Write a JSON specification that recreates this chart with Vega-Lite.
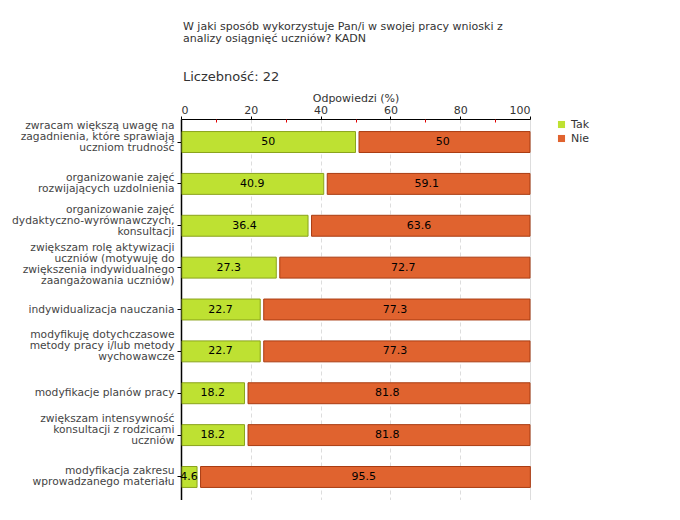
{
  "$schema": "https://vega.github.io/schema/vega-lite/v6.json",
  "autosize": "none",
  "width": 349,
  "height": 381,
  "padding": {"left": 181, "top": 119, "right": 150, "bottom": 0},
  "background": "white",
  "title": {
    "text": ["W jaki sposób wykorzystuje Pan/i w swojej pracy wnioski z", "analizy osiągnięć uczniów? KADN"],
    "subtitle": "Liczebność: 22",
    "anchor": "start",
    "frame": "group",
    "font": "DejaVu Sans",
    "fontSize": 11,
    "fontWeight": "normal",
    "color": "#333333",
    "lineHeight": 12,
    "dx": 2,
    "subtitleFont": "DejaVu Sans",
    "subtitleFontSize": 13,
    "subtitleColor": "#333333",
    "subtitlePadding": 27,
    "offset": 8
  },
  "data": {
    "values": [
      {"cat": "zwracam większą uwagę na\nzagadnienia, które sprawiają\nuczniom trudność", "ord": 1, "answer": "Tak", "aorder": 1, "value": 50},
      {"cat": "zwracam większą uwagę na\nzagadnienia, które sprawiają\nuczniom trudność", "ord": 1, "answer": "Nie", "aorder": 2, "value": 50},
      {"cat": "organizowanie zajęć\nrozwijających uzdolnienia", "ord": 2, "answer": "Tak", "aorder": 1, "value": 40.9},
      {"cat": "organizowanie zajęć\nrozwijających uzdolnienia", "ord": 2, "answer": "Nie", "aorder": 2, "value": 59.1},
      {"cat": "organizowanie zajęć\ndydaktyczno-wyrównawczych,\nkonsultacji", "ord": 3, "answer": "Tak", "aorder": 1, "value": 36.4},
      {"cat": "organizowanie zajęć\ndydaktyczno-wyrównawczych,\nkonsultacji", "ord": 3, "answer": "Nie", "aorder": 2, "value": 63.6},
      {"cat": "zwiększam rolę aktywizacji\nuczniów (motywuję do\nzwiększenia indywidualnego\nzaangażowania uczniów)", "ord": 4, "answer": "Tak", "aorder": 1, "value": 27.3},
      {"cat": "zwiększam rolę aktywizacji\nuczniów (motywuję do\nzwiększenia indywidualnego\nzaangażowania uczniów)", "ord": 4, "answer": "Nie", "aorder": 2, "value": 72.7},
      {"cat": "indywidualizacja nauczania", "ord": 5, "answer": "Tak", "aorder": 1, "value": 22.7},
      {"cat": "indywidualizacja nauczania", "ord": 5, "answer": "Nie", "aorder": 2, "value": 77.3},
      {"cat": "modyfikuję dotychczasowe\nmetody pracy i/lub metody\nwychowawcze", "ord": 6, "answer": "Tak", "aorder": 1, "value": 22.7},
      {"cat": "modyfikuję dotychczasowe\nmetody pracy i/lub metody\nwychowawcze", "ord": 6, "answer": "Nie", "aorder": 2, "value": 77.3},
      {"cat": "modyfikacje planów pracy", "ord": 7, "answer": "Tak", "aorder": 1, "value": 18.2},
      {"cat": "modyfikacje planów pracy", "ord": 7, "answer": "Nie", "aorder": 2, "value": 81.8},
      {"cat": "zwiększam intensywność\nkonsultacji z rodzicami\nuczniów", "ord": 8, "answer": "Tak", "aorder": 1, "value": 18.2},
      {"cat": "zwiększam intensywność\nkonsultacji z rodzicami\nuczniów", "ord": 8, "answer": "Nie", "aorder": 2, "value": 81.8},
      {"cat": "modyfikacja zakresu\nwprowadzanego materiału", "ord": 9, "answer": "Tak", "aorder": 1, "value": 4.6},
      {"cat": "modyfikacja zakresu\nwprowadzanego materiału", "ord": 9, "answer": "Nie", "aorder": 2, "value": 95.5}
    ]
  },
  "transform": [
    {"stack": "value", "groupby": ["cat"], "sort": [{"field": "aorder", "order": "ascending"}], "as": ["v0", "v1"]}
  ],
  "encoding": {
    "y": {
      "field": "cat",
      "type": "nominal",
      "sort": {"field": "ord", "op": "min"},
      "scale": {"paddingInner": 0.5, "paddingOuter": 0.3},
      "axis": {
        "title": null,
        "labelExpr": "split(datum.label, '\\n')",
        "labelFont": "DejaVu Sans",
        "labelFontSize": 10.7,
        "labelColor": "#444444",
        "labelLineHeight": 11,
        "labelBaseline": "middle",
        "labelOffset": {
          "condition": [
            {"test": "length(split(datum.value, '\\n')) == 2", "value": -6},
            {"test": "length(split(datum.value, '\\n')) == 3", "value": -16},
            {"test": "length(split(datum.value, '\\n')) == 4", "value": -20}
          ],
          "value": 0
        },
        "labelLimit": 200,
        "labelPadding": 3,
        "tickColor": "#000000",
        "tickSize": 4,
        "domainColor": "#000000",
        "domainWidth": 1.5
      }
    }
  },
  "layer": [
    {
      "transform": [{"filter": "datum.answer === 'Tak'"}],
      "mark": {"type": "bar", "strokeWidth": 1, "xOffset": 1},
      "encoding": {
        "x": {
          "field": "v0",
          "type": "quantitative",
          "scale": {"domain": [0, 100], "nice": false},
          "axis": {
            "orient": "top",
            "title": "Odpowiedzi (%)",
            "titleFont": "DejaVu Sans",
            "titleFontSize": 11,
            "titleFontWeight": "normal",
            "titleColor": "#333333",
            "titlePadding": 1,
            "values": [0, 20, 40, 60, 80, 100],
            "labelFont": "DejaVu Sans",
            "labelFontSize": 11,
            "labelColor": "#333333",
            "labelPadding": 1,
            "tickColor": "#000000",
            "tickSize": 3,
            "domainColor": "#000000",
            "grid": true,
            "gridColor": "#dddddd",
            "gridDash": [4, 3]
          }
        },
        "x2": {"field": "v1"},
        "color": {
          "field": "answer",
          "type": "nominal",
          "sort": ["Tak", "Nie"],
          "scale": {"domain": ["Tak", "Nie"], "range": ["#bee132", "#e0632f"]},
          "legend": {
            "title": null,
            "orient": "right",
            "offset": 26,
            "symbolType": "square",
            "symbolSize": 50,
            "symbolStrokeWidth": 0,
            "labelFont": "DejaVu Sans",
            "labelFontSize": 11,
            "labelColor": "#333333",
            "labelOffset": 4,
            "rowPadding": 2
          }
        },
        "stroke": {
          "field": "answer",
          "type": "nominal",
          "scale": {"domain": ["Tak", "Nie"], "range": ["#8aa31c", "#a93c12"]},
          "legend": null
        }
      }
    },
    {
      "transform": [{"filter": "datum.answer === 'Nie'"}],
      "mark": {"type": "bar", "strokeWidth": 1, "xOffset": 3.5},
      "encoding": {
        "x": {"field": "v0", "type": "quantitative", "axis": null},
        "x2": {"field": "v1"},
        "color": {"field": "answer", "type": "nominal"},
        "stroke": {"field": "answer", "type": "nominal", "legend": null}
      }
    },
    {
      "transform": [
        {"fold": ["v0", "v1"], "as": ["edge", "pos"]}
      ],
      "mark": {"type": "text", "font": "DejaVu Sans", "fontSize": 11, "color": "#000000", "baseline": "middle", "align": "center"},
      "encoding": {
        "x": {
          "field": "pos",
          "aggregate": "mean",
          "type": "quantitative",
          "axis": {
            "orient": "top",
            "title": null,
            "labels": false,
            "domain": false,
            "grid": false,
            "values": [10, 30, 50, 70, 90],
            "tickColor": "#e00000",
            "tickSize": 3,
            "offset": -3
          }
        },
        "detail": {"field": "answer", "type": "nominal"},
        "text": {"field": "value", "aggregate": "max", "type": "quantitative"}
      }
    }
  ],
  "resolve": {"axis": {"x": "independent"}}
}
